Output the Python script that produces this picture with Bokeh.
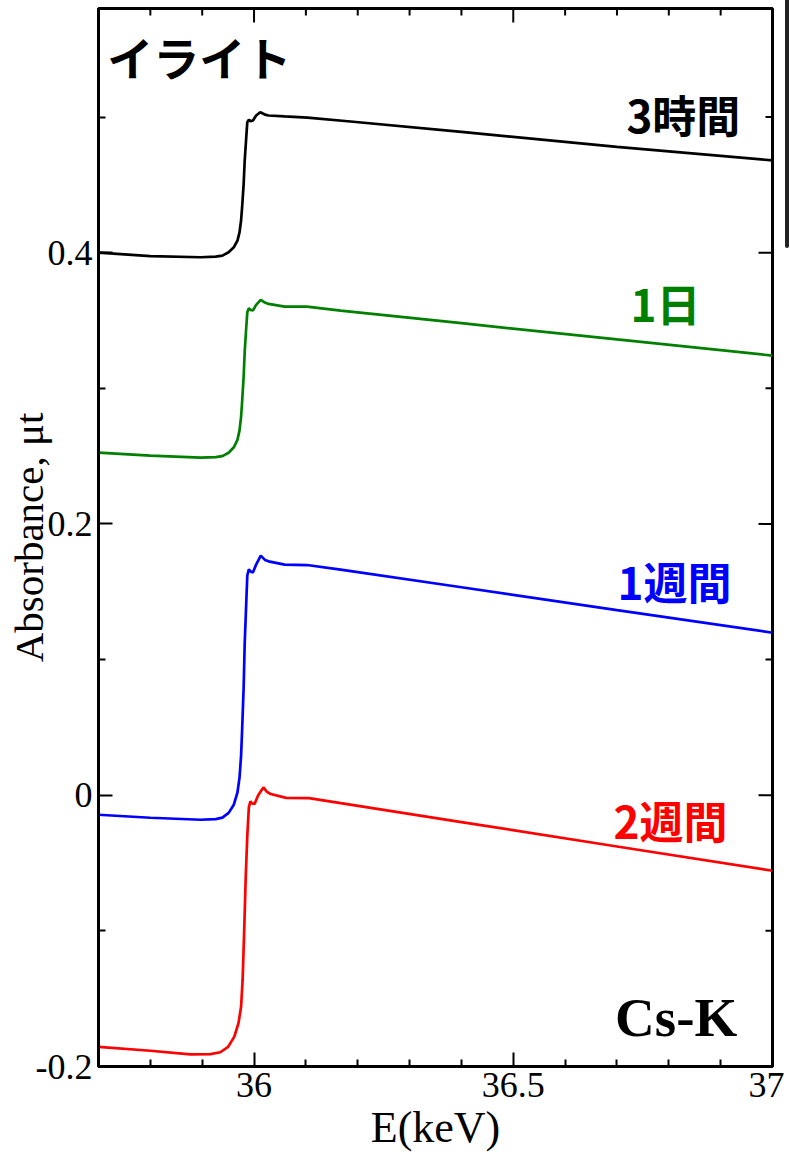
import math
from bokeh.plotting import figure
from bokeh.layouts import row
from bokeh.models import LinearAxis, FixedTicker, Range1d, Label, Div
from bokeh.embed import file_html
from bokeh.resources import INLINE

# Cs K-edge XANES of Cs sorbed on illite, after different contact times
E_3h = [35.700, 35.800, 35.897, 35.926, 35.939, 35.951, 35.961, 35.968, 35.972, 35.975,
        35.977, 35.980, 35.982, 35.985, 35.987, 35.990, 35.993, 35.998, 36.004, 36.012,
        36.021, 36.028, 36.059, 36.103, 36.186, 36.400, 36.700, 37.000]
A_3h = [0.400, 0.3975, 0.3966, 0.3971, 0.3978, 0.4003, 0.4040, 0.4089, 0.4150, 0.4237,
        0.4335, 0.4509, 0.4679, 0.4851, 0.4962, 0.4981, 0.4969, 0.4974, 0.5011, 0.5035,
        0.5018, 0.5011, 0.5004, 0.4996, 0.4967, 0.489, 0.478, 0.468]

E_1d = [35.700, 35.800, 35.897, 35.926, 35.939, 35.951, 35.961, 35.968, 35.972, 35.975,
        35.977, 35.980, 35.982, 35.985, 35.987, 35.990, 35.993, 35.998, 36.004, 36.013,
        36.021, 36.028, 36.059, 36.102, 36.167, 36.400, 36.700, 37.000]
A_1d = [0.2526, 0.2504, 0.2489, 0.2492, 0.2500, 0.2525, 0.2565, 0.2620, 0.2690, 0.2790,
        0.2900, 0.3090, 0.3270, 0.3450, 0.3560, 0.3590, 0.3578, 0.3575, 0.3615, 0.3652,
        0.3632, 0.3622, 0.3602, 0.3602, 0.3573, 0.348, 0.336, 0.3241]

E_1w = [35.700, 35.800, 35.897, 35.926, 35.939, 35.951, 35.961, 35.968, 35.972, 35.975,
        35.977, 35.980, 35.982, 35.985, 35.987, 35.990, 35.993, 35.998, 36.004, 36.013,
        36.021, 36.028, 36.059, 36.102, 36.167, 36.400, 36.700, 37.000]
A_1w = [-0.0144, -0.0166, -0.0181, -0.0176, -0.0165, -0.0130, -0.0070, 0.0020, 0.0130, 0.0290,
        0.0480, 0.0800, 0.1120, 0.1420, 0.1620, 0.1665, 0.1650, 0.1643, 0.1700, 0.1766,
        0.1735, 0.1724, 0.1700, 0.1697, 0.1663, 0.1533, 0.1365, 0.1198]

E_2w = [35.700, 35.800, 35.877, 35.916, 35.935, 35.950, 35.962, 35.970, 35.975, 35.978,
        35.981, 35.984, 35.987, 35.990, 35.993, 35.996, 36.001, 36.008, 36.018, 36.025,
        36.032, 36.062, 36.106, 36.167, 36.400, 36.700, 37.000]
A_2w = [-0.1855, -0.1884, -0.1910, -0.1909, -0.1895, -0.1855, -0.1780, -0.1680, -0.1560, -0.1360,
        -0.1000, -0.0600, -0.0300, -0.0090, -0.0046, -0.0060, -0.0065, 0.0000, 0.0057, 0.0025,
        0.0009, -0.0020, -0.0021, -0.0058, -0.0198, -0.0378, -0.0557]

series = [
    ("3時間", E_3h, A_3h, "#000000", 36.938, 0.502),
    ("1日", E_1d, A_1d, "#008000", 36.861, 0.363),
    ("1週間", E_1w, A_1w, "#0000ff", 36.921, 0.158),
    ("2週間", E_2w, A_2w, "#ff0000", 36.913, -0.018),
]

x_major = [36, 36.5, 37]
x_minor = [35.8, 35.9, 36.1, 36.2, 36.3, 36.4, 36.6, 36.7, 36.8, 36.9]
y_major = [-0.2, 0, 0.2, 0.4]
y_minor = [-0.1, 0.1, 0.3, 0.5]
x_labels = {36: "36", 36.5: "36.5", 37: "37"}
y_labels = {-0.2: "-0.2", 0: "0", 0.2: "0.2", 0.4: "0.4"}

X_LO, X_HI = 35.7, 37.0
Y_LO, Y_HI = -0.2, 0.58

SERIF = "Liberation Serif"
CJK = "Noto Sans CJK JP"

p = figure(width=784, height=1155, output_backend="svg", toolbar_location=None,
           x_range=Range1d(X_LO, X_HI), y_range=Range1d(Y_LO, Y_HI),
           x_axis_location=None, y_axis_location=None,
           min_border_left=98, min_border_right=12, min_border_top=8, min_border_bottom=89)
p.grid.visible = False
p.outline_line_color = "black"
p.outline_line_width = 3
p.background_fill_color = "white"
p.border_fill_color = "white"


def style_axis(ax, ticks, minor, labels):
    ax.ticker = FixedTicker(ticks=ticks, minor_ticks=minor)
    ax.axis_line_width = 3
    ax.axis_line_color = "black"
    ax.major_tick_in = 14
    ax.major_tick_out = 0
    ax.minor_tick_in = 7
    ax.minor_tick_out = 0
    ax.major_tick_line_width = 2
    ax.minor_tick_line_width = 2
    ax.major_tick_line_color = "black"
    ax.minor_tick_line_color = "black"
    ax.major_label_overrides = labels
    ax.major_label_text_font = SERIF
    ax.major_label_text_font_size = "36px"
    ax.major_label_text_color = "black"
    ax.major_label_standoff = 6
    ax.axis_label_text_font = SERIF
    ax.axis_label_text_font_style = "normal"
    ax.axis_label_text_color = "black"


xb = LinearAxis(axis_label="E(keV)")
style_axis(xb, x_major, x_minor, x_labels)
xb.axis_label_text_font_size = "44px"
xb.axis_label_standoff = 3
p.add_layout(xb, "below")

yl = LinearAxis(axis_label="Absorbance, μt")
style_axis(yl, y_major, y_minor, y_labels)
yl.axis_label_text_font_size = "41px"
yl.axis_label_standoff = -19
p.add_layout(yl, "left")

# inward ticks on the top and right frame edges
tick_style = dict(line_color="black", line_width=2, length_units="screen")
p.ray(x=x_major, y=[Y_HI] * len(x_major), length=14, angle=-math.pi / 2, **tick_style)
p.ray(x=x_minor, y=[Y_HI] * len(x_minor), length=7, angle=-math.pi / 2, **tick_style)
p.ray(x=[X_HI] * len(y_major), y=y_major, length=14, angle=math.pi, **tick_style)
p.ray(x=[X_HI] * len(y_minor), y=y_minor, length=7, angle=math.pi, **tick_style)

for name, e, a, color, lx, ly in series:
    p.line(e, a, line_color=color, line_width=2.7)
    p.add_layout(Label(x=lx, y=ly, text=name, text_font=CJK, text_font_size="44px",
                       text_font_style="bold", text_color=color, text_align="right",
                       text_baseline="middle"))

p.add_layout(Label(x=35.717, y=0.5453, text="イライト", text_font=CJK,
                   text_font_size="46px", text_font_style="bold", text_color="black",
                   text_align="left", text_baseline="middle"))
p.add_layout(Label(x=36.932, y=-0.164, text="Cs-K", text_font=SERIF,
                   text_font_size="55px", text_font_style="bold", text_color="black",
                   text_align="right", text_baseline="alphabetic"))

# edge of the neighbouring panel
edge = Div(text='<svg width="6" height="250" style="display:block">'
                '<rect x="1" y="-4" width="4" height="252" rx="2" fill="#222222"/></svg>',
           width=6, height=250, margin=0)
p.margin = 0

layout = row(p, edge, spacing=0)
open("out.html", "w").write(file_html(layout, INLINE))
